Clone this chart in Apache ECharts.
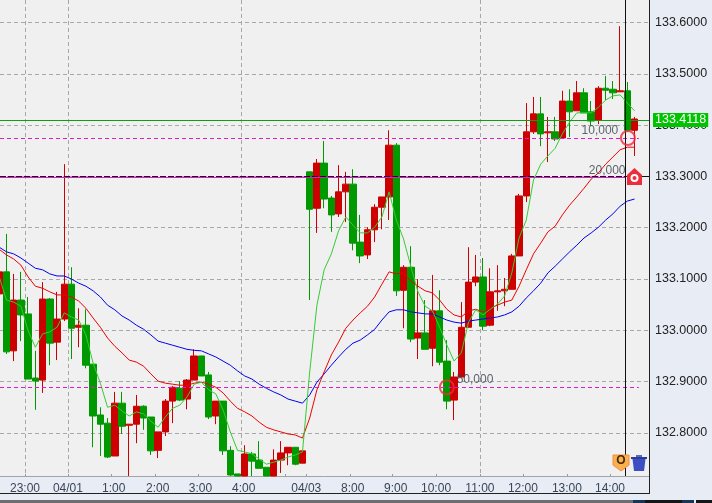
<!DOCTYPE html>
<html>
<head>
<meta charset="utf-8">
<style>
  html, body { margin: 0; padding: 0; background: #e8ecf4; }
  #chart { width: 712px; height: 503px; }
</style>
<script src="https://cdn.jsdelivr.net/npm/echarts@6/dist/echarts.min.js"></script>
</head>
<body>
<div id="chart"></div>
<script>
// 10 minute candles, red = up, green = down
const opens = [
  133.071, 133.114, 132.960, 133.059, 133.032, 132.907, 132.903, 133.061, 132.977, 133.022,
  133.090, 133.006, 133.010, 132.934, 132.835, 132.819, 132.755, 132.858, 132.815, 132.817,
  132.852, 132.831, 132.766, 132.802, 132.862, 132.887, 132.866, 132.903, 132.950, 132.913,
  132.833, 132.862, 132.766, 132.720, 132.716, 132.759, 132.747, 132.733, 132.716, 132.747,
  132.761, 132.772, 132.741, 133.309, 133.238, 133.326, 133.258, 133.227, 133.270, 133.285,
  133.172, 133.147, 133.196, 133.240, 133.260, 133.361, 133.078, 133.123, 132.985, 132.995,
  132.965, 133.038, 132.940, 132.864, 132.909, 133.006, 133.094, 133.104, 133.010, 133.075,
  133.077, 133.080, 133.145, 133.262, 133.387, 133.422, 133.385, 133.387, 133.375, 133.447,
  133.428, 133.463, 133.426, 133.410, 133.472, 133.470, 133.465, 133.467, 133.390
]
const closes = [
  133.114, 132.958, 133.059, 133.030, 132.905, 132.901, 133.061, 132.975, 133.022, 133.090,
  133.004, 133.010, 132.932, 132.833, 132.817, 132.753, 132.858, 132.813, 132.817, 132.852,
  132.829, 132.765, 132.802, 132.862, 132.889, 132.864, 132.903, 132.950, 132.911, 132.831,
  132.862, 132.765, 132.718, 132.716, 132.759, 132.745, 132.731, 132.716, 132.747, 132.761,
  132.772, 132.739, 132.765, 133.236, 133.326, 133.256, 133.225, 133.270, 133.285, 133.170,
  133.145, 133.196, 133.240, 133.260, 133.361, 133.077, 133.123, 132.983, 132.995, 132.963,
  133.038, 132.938, 132.862, 132.909, 133.006, 133.094, 133.104, 133.008, 133.075, 133.077,
  133.080, 133.145, 133.262, 133.387, 133.422, 133.383, 133.387, 133.373, 133.447, 133.426,
  133.463, 133.424, 133.408, 133.472, 133.468, 133.463, 133.467, 133.390, 133.412
]
const lows = [
  133.071, 132.954, 132.940, 132.979, 132.905, 132.845, 132.878, 132.932, 132.942, 133.018,
  132.944, 132.967, 132.926, 132.772, 132.755, 132.751, 132.755, 132.798, 132.716, 132.780,
  132.806, 132.757, 132.751, 132.794, 132.819, 132.862, 132.846, 132.903, 132.911, 132.827,
  132.817, 132.757, 132.716, 132.716, 132.716, 132.716, 132.731, 132.716, 132.716, 132.722,
  132.737, 132.737, 132.741, 133.059, 133.190, 133.238, 133.192, 133.221, 133.211, 133.156,
  133.131, 133.139, 133.172, 133.197, 133.215, 133.067, 133.004, 132.977, 132.944, 132.963,
  132.930, 132.932, 132.846, 132.825, 132.909, 133.006, 133.086, 133.000, 133.008, 133.038,
  133.047, 133.080, 133.145, 133.250, 133.383, 133.359, 133.328, 133.369, 133.375, 133.377,
  133.428, 133.424, 133.400, 133.402, 133.449, 133.451, 133.465, 133.387, 133.340
]
const highs = [
  133.114, 133.188, 133.110, 133.114, 133.065, 132.960, 133.094, 133.063, 133.075, 133.324,
  133.123, 133.043, 133.041, 132.934, 132.850, 132.829, 132.880, 132.880, 132.817, 132.874,
  132.854, 132.831, 132.802, 132.866, 132.891, 132.901, 132.905, 132.963, 132.950, 132.919,
  132.862, 132.862, 132.774, 132.720, 132.776, 132.763, 132.784, 132.733, 132.768, 132.784,
  132.772, 132.772, 132.765, 133.309, 133.334, 133.369, 133.262, 133.322, 133.309, 133.314,
  133.225, 133.201, 133.246, 133.260, 133.390, 133.365, 133.127, 133.164, 133.100, 133.059,
  133.108, 133.078, 132.981, 132.919, 133.055, 133.162, 133.147, 133.141, 133.121, 133.127,
  133.102, 133.149, 133.266, 133.443, 133.455, 133.455, 133.416, 133.416, 133.467, 133.470,
  133.486, 133.472, 133.447, 133.476, 133.496, 133.486, 133.593, 133.484, 133.416
]

const maFast = [
  133.104, 133.059, 133.055, 133.047, 132.999, 132.967, 132.993, 132.997, 133.006, 133.034,
  133.026, 133.020, 132.991, 132.936, 132.897, 132.850, 132.854, 132.843, 132.833, 132.841,
  132.837, 132.823, 132.811, 132.831, 132.848, 132.854, 132.870, 132.895, 132.899, 132.884,
  132.876, 132.845, 132.802, 132.766, 132.763, 132.759, 132.749, 132.739, 132.743, 132.747,
  132.753, 132.757, 132.763, 132.919, 133.049, 133.118, 133.149, 133.194, 133.221, 133.205,
  133.190, 133.190, 133.201, 133.221, 133.270, 133.215, 133.178, 133.125, 133.075, 133.047,
  133.038, 133.006, 132.971, 132.940, 132.956, 133.016, 133.040, 133.030, 133.041, 133.051,
  133.067, 133.112, 133.180, 133.215, 133.293, 133.324, 133.340, 133.355, 133.383, 133.406,
  133.424, 133.424, 133.424, 133.435, 133.449, 133.457, 133.459, 133.443, 133.428
]
const maMid = [
  133.158, 133.147, 133.139, 133.127, 133.104, 133.086, 133.082, 133.075, 133.069, 133.069,
  133.065, 133.057, 133.043, 133.024, 133.006, 132.985, 132.969, 132.956, 132.942, 132.938,
  132.930, 132.915, 132.901, 132.897, 132.895, 132.893, 132.893, 132.897, 132.899, 132.895,
  132.889, 132.878, 132.862, 132.848, 132.841, 132.833, 132.821, 132.811, 132.806, 132.802,
  132.798, 132.796, 132.790, 132.829, 132.884, 132.919, 132.952, 132.977, 133.004, 133.020,
  133.034, 133.047, 133.065, 133.090, 133.114, 133.110, 133.112, 133.096, 133.086, 133.077,
  133.073, 133.059, 133.041, 133.030, 133.026, 133.038, 133.041, 133.036, 133.043, 133.049,
  133.055, 133.059, 133.086, 133.118, 133.149, 133.170, 133.192, 133.203, 133.225, 133.244,
  133.260, 133.277, 133.295, 133.307, 133.324, 133.338, 133.352, 133.357, 133.357
]
const maSlow = [
  133.162, 133.153, 133.149, 133.141, 133.131, 133.121, 133.118, 133.110, 133.106, 133.106,
  133.100, 133.092, 133.086, 133.077, 133.065, 133.049, 133.040, 133.028, 133.020, 133.010,
  133.002, 132.991, 132.979, 132.975, 132.971, 132.967, 132.963, 132.961, 132.960, 132.954,
  132.948, 132.940, 132.932, 132.921, 132.911, 132.905, 132.895, 132.887, 132.880, 132.874,
  132.866, 132.862, 132.858, 132.874, 132.899, 132.915, 132.932, 132.948, 132.963, 132.975,
  132.981, 132.991, 133.002, 133.020, 133.036, 133.040, 133.040, 133.036, 133.034, 133.032,
  133.032, 133.026, 133.020, 133.016, 133.014, 133.018, 133.020, 133.022, 133.024, 133.026,
  133.030, 133.036, 133.047, 133.063, 133.077, 133.092, 133.112, 133.125, 133.139, 133.153,
  133.166, 133.180, 133.190, 133.201, 133.215, 133.227, 133.242, 133.252, 133.256
]

const priceTicks = [132.8, 132.9, 133.0, 133.1, 133.2, 133.3, 133.4, 133.5, 133.6]
const timeLabels = ['23:00', '04/01', '1:00', '2:00', '3:00', '4:00', '04/03', '8:00', '9:00', '10:00', '11:00', '12:00', '13:00', '14:00']
const timeLabelAt = [3.56, 9.51, 15.84, 21.95, 27.87, 33.85, 42.52, 48.95, 54.92, 60.5, 66.58, 72.54, 78.63, 84.6]
const timeTickAt = [3.56, 9.51, 15.47, 21.56, 27.52, 33.47, 39.57, 42.48, 48.57, 54.5, 60.5, 66.58, 72.54, 78.63, 84.58]
const gridLineAt = [3.56, 9.51, 33.47, 66.58]

const lastPrice = 133.4118
const cursorAt = 86.76
const alertPrices = [133.375, 132.889]
const alertCircles = [[87.08, 133.375], [62, 132.889]]
const alertTexts = [
  { value: [83.2, 133.389], text: '10,000' },
  { value: [84.2, 133.312], text: '20,000' },
  { value: [65.9, 132.903], text: '50,000' }
]

const candles = opens.map((o, i) => [i, o, closes[i], lows[i], highs[i]])
const withIndex = list => list.map((v, i) => [i, v])

const FONT = '"Liberation Sans", Arial, sans-serif'
const MAGENTA = '#e018d0'

const maLine = (name, list, color) => ({
  name,
  type: 'line',
  data: withIndex(list),
  showSymbol: false,
  symbol: 'none',
  lineStyle: { color, width: 1 },
  z: 4
})

const chart = echarts.init(document.getElementById('chart'), null, { renderer: 'canvas' })

chart.setOption({
  animation: false,
  backgroundColor: '#e8ecf4',
  grid: {
    left: 0,
    top: 0,
    right: 63,
    bottom: 27,
    show: true,
    backgroundColor: '#f0f0f0',
    borderWidth: 0
  },
  xAxis: [
    {
      type: 'value',
      min: 0.1,
      max: 90,
      axisLine: { onZero: false, lineStyle: { color: '#a4a4a4', width: 1 } },
      axisTick: { inside: true, length: 2, customValues: timeTickAt, lineStyle: { color: '#999999' } },
      axisLabel: {
        customValues: timeLabelAt,
        margin: 7,
        color: '#3a4656',
        fontFamily: FONT,
        fontSize: 12,
        formatter: v => timeLabels[timeLabelAt.indexOf(v)]
      },
      splitLine: { show: false }
    },
    {
      // second axis only carries the few vertical grid lines
      type: 'value',
      position: 'top',
      min: 0.1,
      max: 90,
      axisLine: { show: false },
      axisLabel: { show: false },
      axisTick: { show: false, customValues: gridLineAt },
      splitLine: { show: true, lineStyle: { color: '#a8a8a8', type: [4, 3], width: 1 } }
    }
  ],
  yAxis: {
    type: 'value',
    position: 'right',
    min: 132.716,
    max: 133.644,
    axisLine: { show: false, onZero: false },
    axisTick: { show: false, customValues: priceTicks },
    axisLabel: {
      customValues: priceTicks,
      margin: 6,
      color: '#222222',
      fontFamily: FONT,
      fontSize: 12.5,
      formatter: v => v.toFixed(4)
    },
    splitLine: { show: true, lineStyle: { color: '#a8a8a8', type: [4, 3], width: 1 } }
  },
  series: [
    {
      name: 'price',
      type: 'candlestick',
      data: candles,
      encode: { x: 0, y: [1, 2, 3, 4] },
      barWidth: 7,
      itemStyle: {
        color: '#cc0000',
        color0: '#009900',
        borderColor: '#cc0000',
        borderColor0: '#009900',
        borderWidth: 1
      },
      z: 3
    },
    maLine('ma slow', maSlow, '#0000ee'),
    maLine('ma mid', maMid, '#ee0000'),
    maLine('ma fast', maFast, '#33cc33'),
    {
      name: 'levels',
      type: 'line',
      data: [],
      z: 5,
      markLine: {
        silent: true,
        symbol: 'none',
        animation: false,
        label: { show: false },
        data: [
          [
            { coord: [0.1, alertPrices[0]], lineStyle: { color: MAGENTA, type: [4, 3], width: 1 } },
            { coord: [88.6, alertPrices[0]] }
          ],
          [
            { coord: [0.1, alertPrices[1]], lineStyle: { color: MAGENTA, type: [4, 3], width: 1 } },
            { coord: [88.6, alertPrices[1]] }
          ],
          [
            { coord: [0.1, 133.298], lineStyle: { color: MAGENTA, type: 'solid', width: 1 } },
            { coord: [cursorAt, 133.298] }
          ],
          [
            { coord: [0.1, 133.3], lineStyle: { color: '#111111', type: [6, 2], width: 1 } },
            { coord: [cursorAt, 133.3] }
          ],
          [
            { coord: [cursorAt, 133.3], lineStyle: { color: '#111111', type: 'solid', width: 1 } },
            { coord: [90, 133.3] }
          ],
          {
            yAxis: lastPrice,
            lineStyle: { color: '#109c10', type: 'solid', width: 1 },
            label: {
              show: true,
              position: 'end',
              distance: 4,
              formatter: lastPrice.toFixed(4),
              color: '#ffffff',
              backgroundColor: '#00c400',
              fontFamily: FONT,
              fontSize: 12.5,
              padding: [1, 2, 0, 2]
            }
          },
          {
            xAxis: cursorAt,
            lineStyle: { color: '#111111', type: 'solid', width: 1 }
          }
        ]
      }
    },
    {
      name: 'alert circles',
      type: 'scatter',
      data: alertCircles,
      symbol: 'circle',
      symbolSize: 14,
      itemStyle: { color: 'rgba(0,0,0,0)', borderColor: '#ee2c3c', borderWidth: 2 },
      z: 6
    },
    {
      name: 'alert texts',
      type: 'scatter',
      data: alertTexts,
      symbolSize: 1,
      itemStyle: { color: 'rgba(0,0,0,0)' },
      label: {
        show: true,
        position: 'inside',
        formatter: p => p.data.text,
        color: '#343e4c',
        fontFamily: FONT,
        fontSize: 12
      },
      z: 7
    }
  ],
  graphic: [
    // window frame and the status strip under the chart
    { type: 'rect', shape: { x: 649, y: 0, width: 1, height: 494 }, style: { fill: '#222222' }, z: 20 },
    { type: 'rect', shape: { x: 0, y: 493, width: 650, height: 1 }, style: { fill: '#222222' }, z: 20 },
    { type: 'rect', shape: { x: 0, y: 500, width: 633, height: 3 }, style: { fill: '#6e6e6e' }, z: 20 },
    { type: 'rect', shape: { x: 633, y: 500, width: 12, height: 3 }, style: { fill: '#14365a' }, z: 20 },
    { type: 'rect', shape: { x: 645, y: 500, width: 37, height: 3 }, style: { fill: '#151515' }, z: 20 },
    { type: 'rect', shape: { x: 682, y: 500, width: 12, height: 3 }, style: { fill: '#14365a' }, z: 20 },
    { type: 'rect', shape: { x: 696, y: 500, width: 16, height: 3 }, style: { fill: '#151515' }, z: 20 },
    // alert house marker
    {
      type: 'polygon',
      shape: { points: [[634.5, 168], [642, 175], [642, 185], [627, 185], [627, 175]] },
      style: { fill: '#ee2c3c' },
      z: 21
    },
    { type: 'circle', shape: { cx: 634.5, cy: 178, r: 4 }, style: { fill: '#ffffff' }, z: 22 },
    { type: 'circle', shape: { cx: 634.5, cy: 178, r: 2 }, style: { fill: '#ee2c3c' }, z: 23 },
    // order tag and trash can
    {
      type: 'polygon',
      shape: { points: [[613, 455], [629, 455], [629, 465], [621, 471], [613, 465]] },
      style: { fill: '#f8b050', stroke: '#f48c3c', lineWidth: 1 },
      z: 21
    },
    {
      type: 'text',
      x: 621,
      y: 461,
      style: { text: 'O', fill: '#4a2800', font: 'bold 12px ' + FONT, align: 'center', verticalAlign: 'middle' },
      z: 22
    },
    { type: 'rect', shape: { x: 631, y: 457, width: 16, height: 2 }, style: { fill: '#2c3c9c' }, z: 21 },
    { type: 'rect', shape: { x: 636, y: 455, width: 6, height: 2 }, style: { fill: '#5a6ab8' }, z: 21 },
    {
      type: 'polygon',
      shape: { points: [[632.5, 459], [645.5, 459], [644, 471], [634, 471]] },
      style: { fill: '#3c50c4' },
      z: 21
    }
  ]
})

window.addEventListener('resize', () => chart.resize())
</script>
</body>
</html>
